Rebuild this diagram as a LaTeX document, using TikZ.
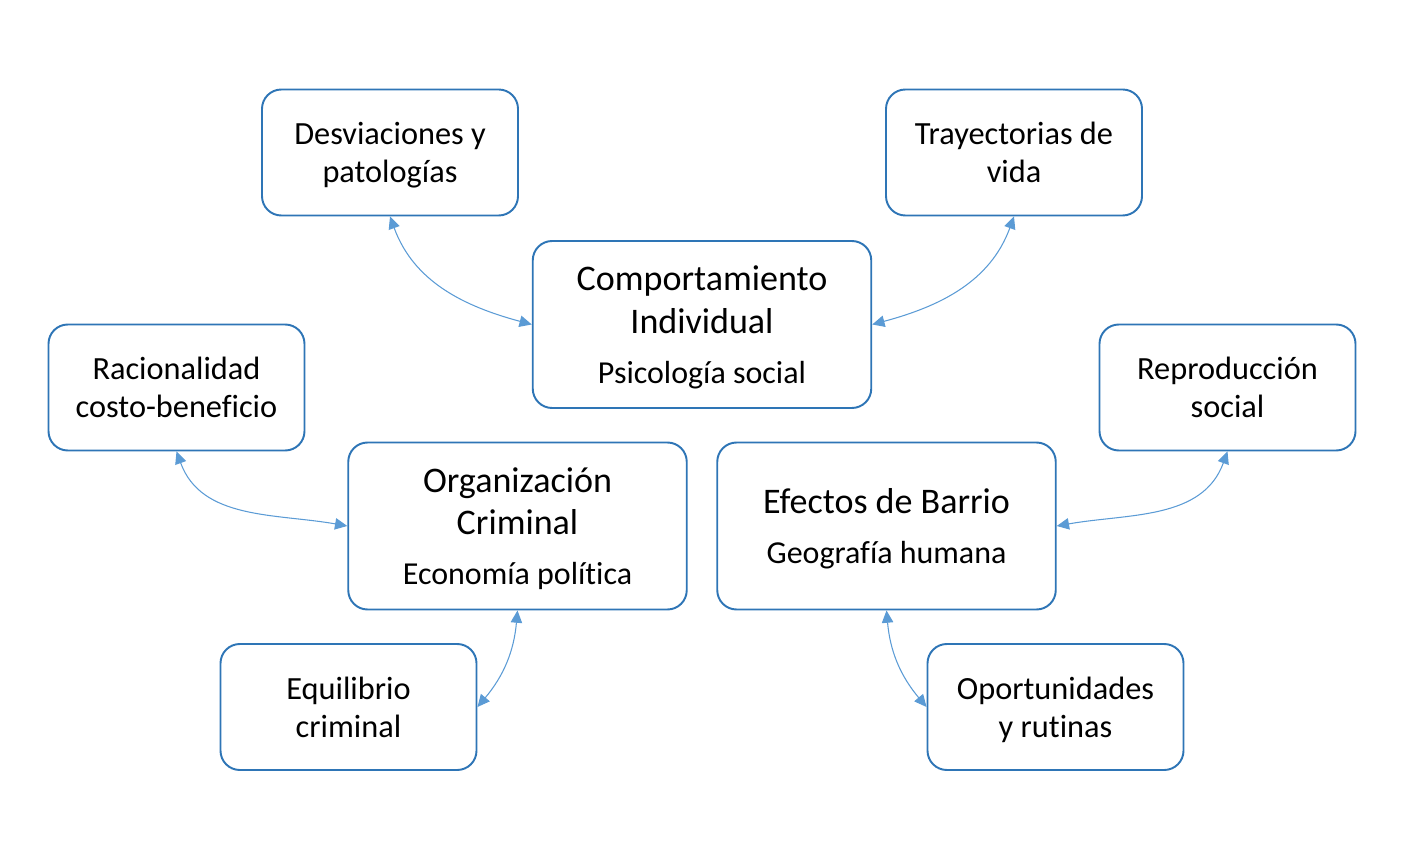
\documentclass[tikz,border=0pt]{standalone}
\usepackage{fontspec}
\setmainfont{Carlito}[Ligatures={NoCommon}]
\usetikzlibrary{arrows.meta}
\definecolor{boxblue}{HTML}{2E75B6}
\definecolor{linkblue}{HTML}{5B9BD5}

\begin{document}
\begin{tikzpicture}

      \useasboundingbox (0,0) rectangle (28.38,17.34);

      \begin{scope}[every node/.style={draw=boxblue, line width=1.1pt, rounded corners=11pt,
          align=center, inner sep=0pt, text depth=0pt}]
        \begin{scope}[every node/.append style={minimum width=5.12cm, minimum height=2.52cm,
            font=\fontsize{18.4}{21.5}\selectfont}]
          \node (desv) at (7.80,14.29)  {Desviaciones y\\patologías};
          \node (tray) at (20.28,14.29) {Trayectorias de\\vida};
          \node (raci) at (3.53,9.59)   {Racionalidad\\costo-beneficio};
          \node (repr) at (24.55,9.59)  {Reproducción\\social};
          \node (equi) at (6.97,3.20)   {Equilibrio\\criminal};
          \node (opor) at (21.11,3.20)  {Oportunidades\\y rutinas};
        \end{scope}
        \begin{scope}[every node/.append style={minimum width=6.77cm, minimum height=3.34cm,
            font=\fontsize{20.5}{24.4}\selectfont}]
          \node (comp) at (14.04,10.85) {Comportamiento\\Individual\\[4pt]{\fontsize{18.2}{21.5}\selectfont Psicología social}};
          \node (orga) at (10.35,6.82)  {Organización\\Criminal\\[4pt]{\fontsize{18.2}{21.5}\selectfont Economía política}};
          \node (efec) at (17.73,6.82)  {Efectos de Barrio\\[4pt]{\fontsize{18.2}{21.5}\selectfont Geografía humana}};
        \end{scope}
      \end{scope}

      \begin{scope}[every edge/.style={draw=linkblue, line width=0.6pt,
          {Triangle[length=7pt,width=6.5pt]}-{Triangle[length=7pt,width=6.5pt]}}]
        \path (desv.south) edge[out=-70,in=165]  (comp.west);
        \path (tray.south) edge[out=-110,in=15]  (comp.east);
        \path (raci.south) edge[out=-70,in=170]  (orga.west);
        \path (repr.south) edge[out=-110,in=10]  (efec.east);
        \path (orga.south) edge[out=-95,in=50]   (equi.east);
        \path (efec.south) edge[out=-85,in=130]  (opor.west);
      \end{scope}

    \end{tikzpicture}
\end{document}
